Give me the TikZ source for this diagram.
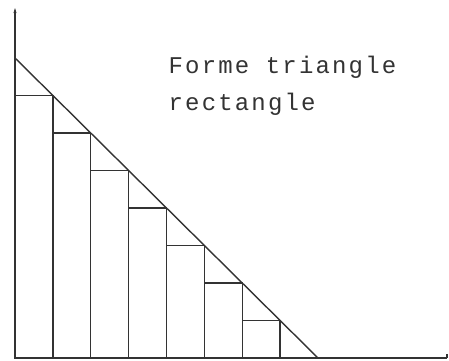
\documentclass[tikz,border=0pt]{standalone}
\usepackage{fontspec}
\usetikzlibrary{arrows.meta}
\newfontfamily\plotfont[LetterSpace=9]{Liberation Mono}
\definecolor{ink}{gray}{0.2}

\begin{document}
\begin{tikzpicture}[x=1pt,y=1pt,line width=1.4pt,draw=ink,
    bar/.style={draw=ink,line width=1.4pt},
    label/.style={anchor=base west,inner sep=0pt,text=ink,font=\plotfont\fontsize{24}{30}\selectfont}]
        \useasboundingbox (0,0) rectangle (449,360);
        \coordinate (O) at (15,2);
        \coordinate (ytop) at (15,352);
        \coordinate (xend) at (447,2);
        \coordinate (apex) at (15,302);
        \coordinate (foot) at (318,2);

        \foreach \i in {0,...,6}
            \draw[bar] ({15+\i*37.875},2) rectangle ({15+(\i+1)*37.875},{2+(7-\i)*37.5});

        \draw[-{Stealth[length=5pt,width=3pt]}] (O) -- (ytop);
        \draw (O) -- (xend);
        \draw (xend) -- ++(0,4);
        \draw (apex) -- (foot);

        \node[label] (line1) at (168,287) {Forme triangle};
        \node[label] (line2) at (168,250) {rectangle};
        \end{tikzpicture}
\end{document}
